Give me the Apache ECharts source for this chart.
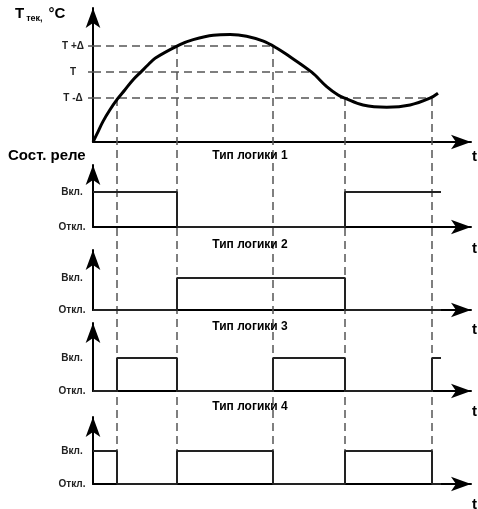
<!DOCTYPE html>
<html>
<head>
<meta charset="utf-8">
<script src="https://cdn.jsdelivr.net/npm/echarts@6/dist/echarts.min.js"></script>
<style>
  html, body { margin: 0; padding: 0; background: #fff; }
  #chart { width: 478px; height: 509px; }
</style>
</head>
<body>
<div id="chart"></div>
<script>
// Temperature curve (time, temperature)
const curveTime = [0, 1.7, 3.3, 5.6, 8.1, 10.6, 13.3, 16.1, 18.3, 20.7, 29, 33.4, 40.1, 45.7, 51.2, 56.8, 61.2, 64.6, 72.9, 77.9, 81.7, 84, 90, 97.9, 105.7, 112.3, 115]
const curveTemp = [0, 5.2, 10.2, 16, 21.4, 26, 31, 35.2, 38.5, 41.9, 48.7, 51.2, 53.4, 53.7, 52.9, 50.4, 47, 43.7, 34.9, 27.7, 23.5, 21.9, 18.5, 17.4, 18.5, 21.9, 24.4]

// Threshold levels and where their dashed lines stop
const levelNames = ['T -Δ', 'T', 'T +Δ']
const levelValues = [22, 35, 48]
const levelEnds = [113, 72.9, 60]

// Switching moments and the level the curve crosses there
const switchTimes = [8, 28, 60, 84, 113]
const switchLevels = [22, 48, 48, 22, 22]
const timeEnd = 116

// Relay state on each interval between switches (1 = on, 0 = off)
const logicNames = ['Тип логики 1', 'Тип логики 2', 'Тип логики 3', 'Тип логики 4']
const logic1 = [1, 1, 0, 0, 1, 1]
const logic2 = [0, 0, 1, 1, 0, 0]
const logic3 = [0, 1, 0, 1, 0, 1]
const logic4 = [1, 0, 1, 0, 1, 0]
const stateLabels = ['Откл.', 'Вкл.']

// Layout
const FONT = 'Liberation Sans'
const LEFT = 93
const WIDTH = 378
const X_MAX = 126
const topPanel = { top: 8, height: 134, yMax: 67 }
const relayPanels = [
  { top: 165, height: 62, on: 35 },
  { top: 250, height: 60, on: 32 },
  { top: 323, height: 68, on: 33 },
  { top: 417, height: 67, on: 33 },
]
const tNamePad = [15, 22, 20, 21, 21]

const overlayTop = topPanel.top
const overlayHeight = relayPanels[3].top + relayPanels[3].height - overlayTop
const overlayMin = topPanel.yMax - overlayHeight * topPanel.yMax / topPanel.height

const chart = echarts.init(document.getElementById('chart'), null, { renderer: 'canvas' })

const arrowLine = {
  show: true,
  onZero: false,
  symbol: ['none', 'arrow'],
  symbolSize: [11, 20],
  symbolOffset: [0, 0],
  lineStyle: { color: '#000', width: 2 },
}

const dashStyle = { color: '#555', width: 1.5, type: [8, 5], opacity: 1 }

function makeXAxis(gridIndex) {
  return {
    type: 'value',
    gridIndex,
    min: 0,
    max: X_MAX,
    axisLine: arrowLine,
    axisTick: { show: false },
    axisLabel: { show: false },
    splitLine: { show: false },
    name: 't',
    nameLocation: 'end',
    nameGap: 1,
    nameTextStyle: {
      fontFamily: FONT,
      fontWeight: 'bold',
      fontSize: 15,
      color: '#000',
      verticalAlign: 'top',
      padding: [tNamePad[gridIndex] - 8, 0, 0, 0],
    },
  }
}

const labelStyle = {
  fontFamily: FONT,
  fontWeight: 'bold',
  color: '#222',
  align: 'center',
}

const grids = [
  { left: LEFT, width: WIDTH, top: topPanel.top, height: topPanel.height, outerBoundsMode: 'none' },
  ...relayPanels.map((p) => ({ left: LEFT, width: WIDTH, top: p.top, height: p.height, outerBoundsMode: 'none' })),
  { left: LEFT, width: WIDTH, top: overlayTop, height: overlayHeight, outerBoundsMode: 'none' },
]

const xAxes = [0, 1, 2, 3, 4].map(makeXAxis)
xAxes.push({ type: 'value', gridIndex: 5, min: 0, max: X_MAX, show: false })

const yAxes = [
  {
    type: 'value',
    gridIndex: 0,
    min: 0,
    max: topPanel.yMax,
    axisLine: arrowLine,
    axisTick: { show: true, customValues: levelValues, length: 5, lineStyle: { color: '#555', width: 1.5 } },
    axisLabel: {
      ...labelStyle,
      fontSize: 10,
      margin: 20,
      customValues: levelValues,
      formatter: (v) => levelNames[levelValues.indexOf(v)] || '',
    },
    splitLine: { show: false },
  },
  ...relayPanels.map((p, i) => ({
    type: 'value',
    gridIndex: i + 1,
    min: 0,
    max: p.height / p.on,
    axisLine: arrowLine,
    axisTick: { show: false },
    axisLabel: {
      ...labelStyle,
      fontSize: 10,
      margin: 21,
      customValues: [0, 1],
      formatter: (v) => stateLabels[v] || '',
    },
    splitLine: { show: false },
  })),
  { type: 'value', gridIndex: 5, min: overlayMin, max: topPanel.yMax, show: false },
]

// Step lines for the relay panels
const bounds = [0, ...switchTimes, timeEnd]
const stepSeries = [logic1, logic2, logic3, logic4].map((states, i) => ({
  name: logicNames[i],
  type: 'line',
  xAxisIndex: i + 1,
  yAxisIndex: i + 1,
  step: 'end',
  showSymbol: false,
  data: bounds.map((b, k) => [b, states[Math.min(k, states.length - 1)]]),
  lineStyle: { color: '#222', width: 2 },
  z: 5,
  silent: true,
}))

const titleStyle = { fontFamily: FONT, fontWeight: 'bold', color: '#000' }
const logicTitleTops = [145, 234, 316, 396]

chart.setOption({
  animation: false,
  backgroundColor: '#fff',
  title: [
    {
      text: '{a|T}{b|тек,} {a|°C}',
      left: 10,
      top: 0,
      textStyle: {
        rich: {
          a: { ...titleStyle, fontSize: 15 },
          b: { ...titleStyle, fontSize: 9, verticalAlign: 'bottom', padding: [6, 1, 0, 2] },
        },
      },
    },
    { text: 'Сост. реле', left: 3, top: 143, textStyle: { ...titleStyle, fontSize: 15 } },
    ...logicNames.map((n, i) => ({
      text: n,
      left: 245,
      top: logicTitleTops[i],
      textAlign: 'center',
      textStyle: { ...titleStyle, fontSize: 12 },
    })),
  ],
  grid: grids,
  xAxis: xAxes,
  yAxis: yAxes,
  series: [
    // Threshold level lines
    {
      type: 'lines',
      coordinateSystem: 'cartesian2d',
      xAxisIndex: 0,
      yAxisIndex: 0,
      data: levelValues.map((v, i) => ({ coords: [[0, v], [levelEnds[i], v]] })),
      lineStyle: dashStyle,
      z: 1,
      silent: true,
    },
    // Vertical switching lines running through all panels
    {
      type: 'lines',
      coordinateSystem: 'cartesian2d',
      xAxisIndex: 5,
      yAxisIndex: 5,
      data: switchTimes.map((t, i) => ({ coords: [[t, switchLevels[i]], [t, overlayMin]] })),
      lineStyle: dashStyle,
      z: 1,
      silent: true,
    },
    // Temperature curve
    {
      name: 'T',
      type: 'line',
      xAxisIndex: 0,
      yAxisIndex: 0,
      smooth: 0.35,
      showSymbol: false,
      data: curveTime.map((t, i) => [t, curveTemp[i]]),
      lineStyle: { color: '#000', width: 3 },
      z: 5,
      silent: true,
    },
    ...stepSeries,
  ],
})
</script>
</body>
</html>
